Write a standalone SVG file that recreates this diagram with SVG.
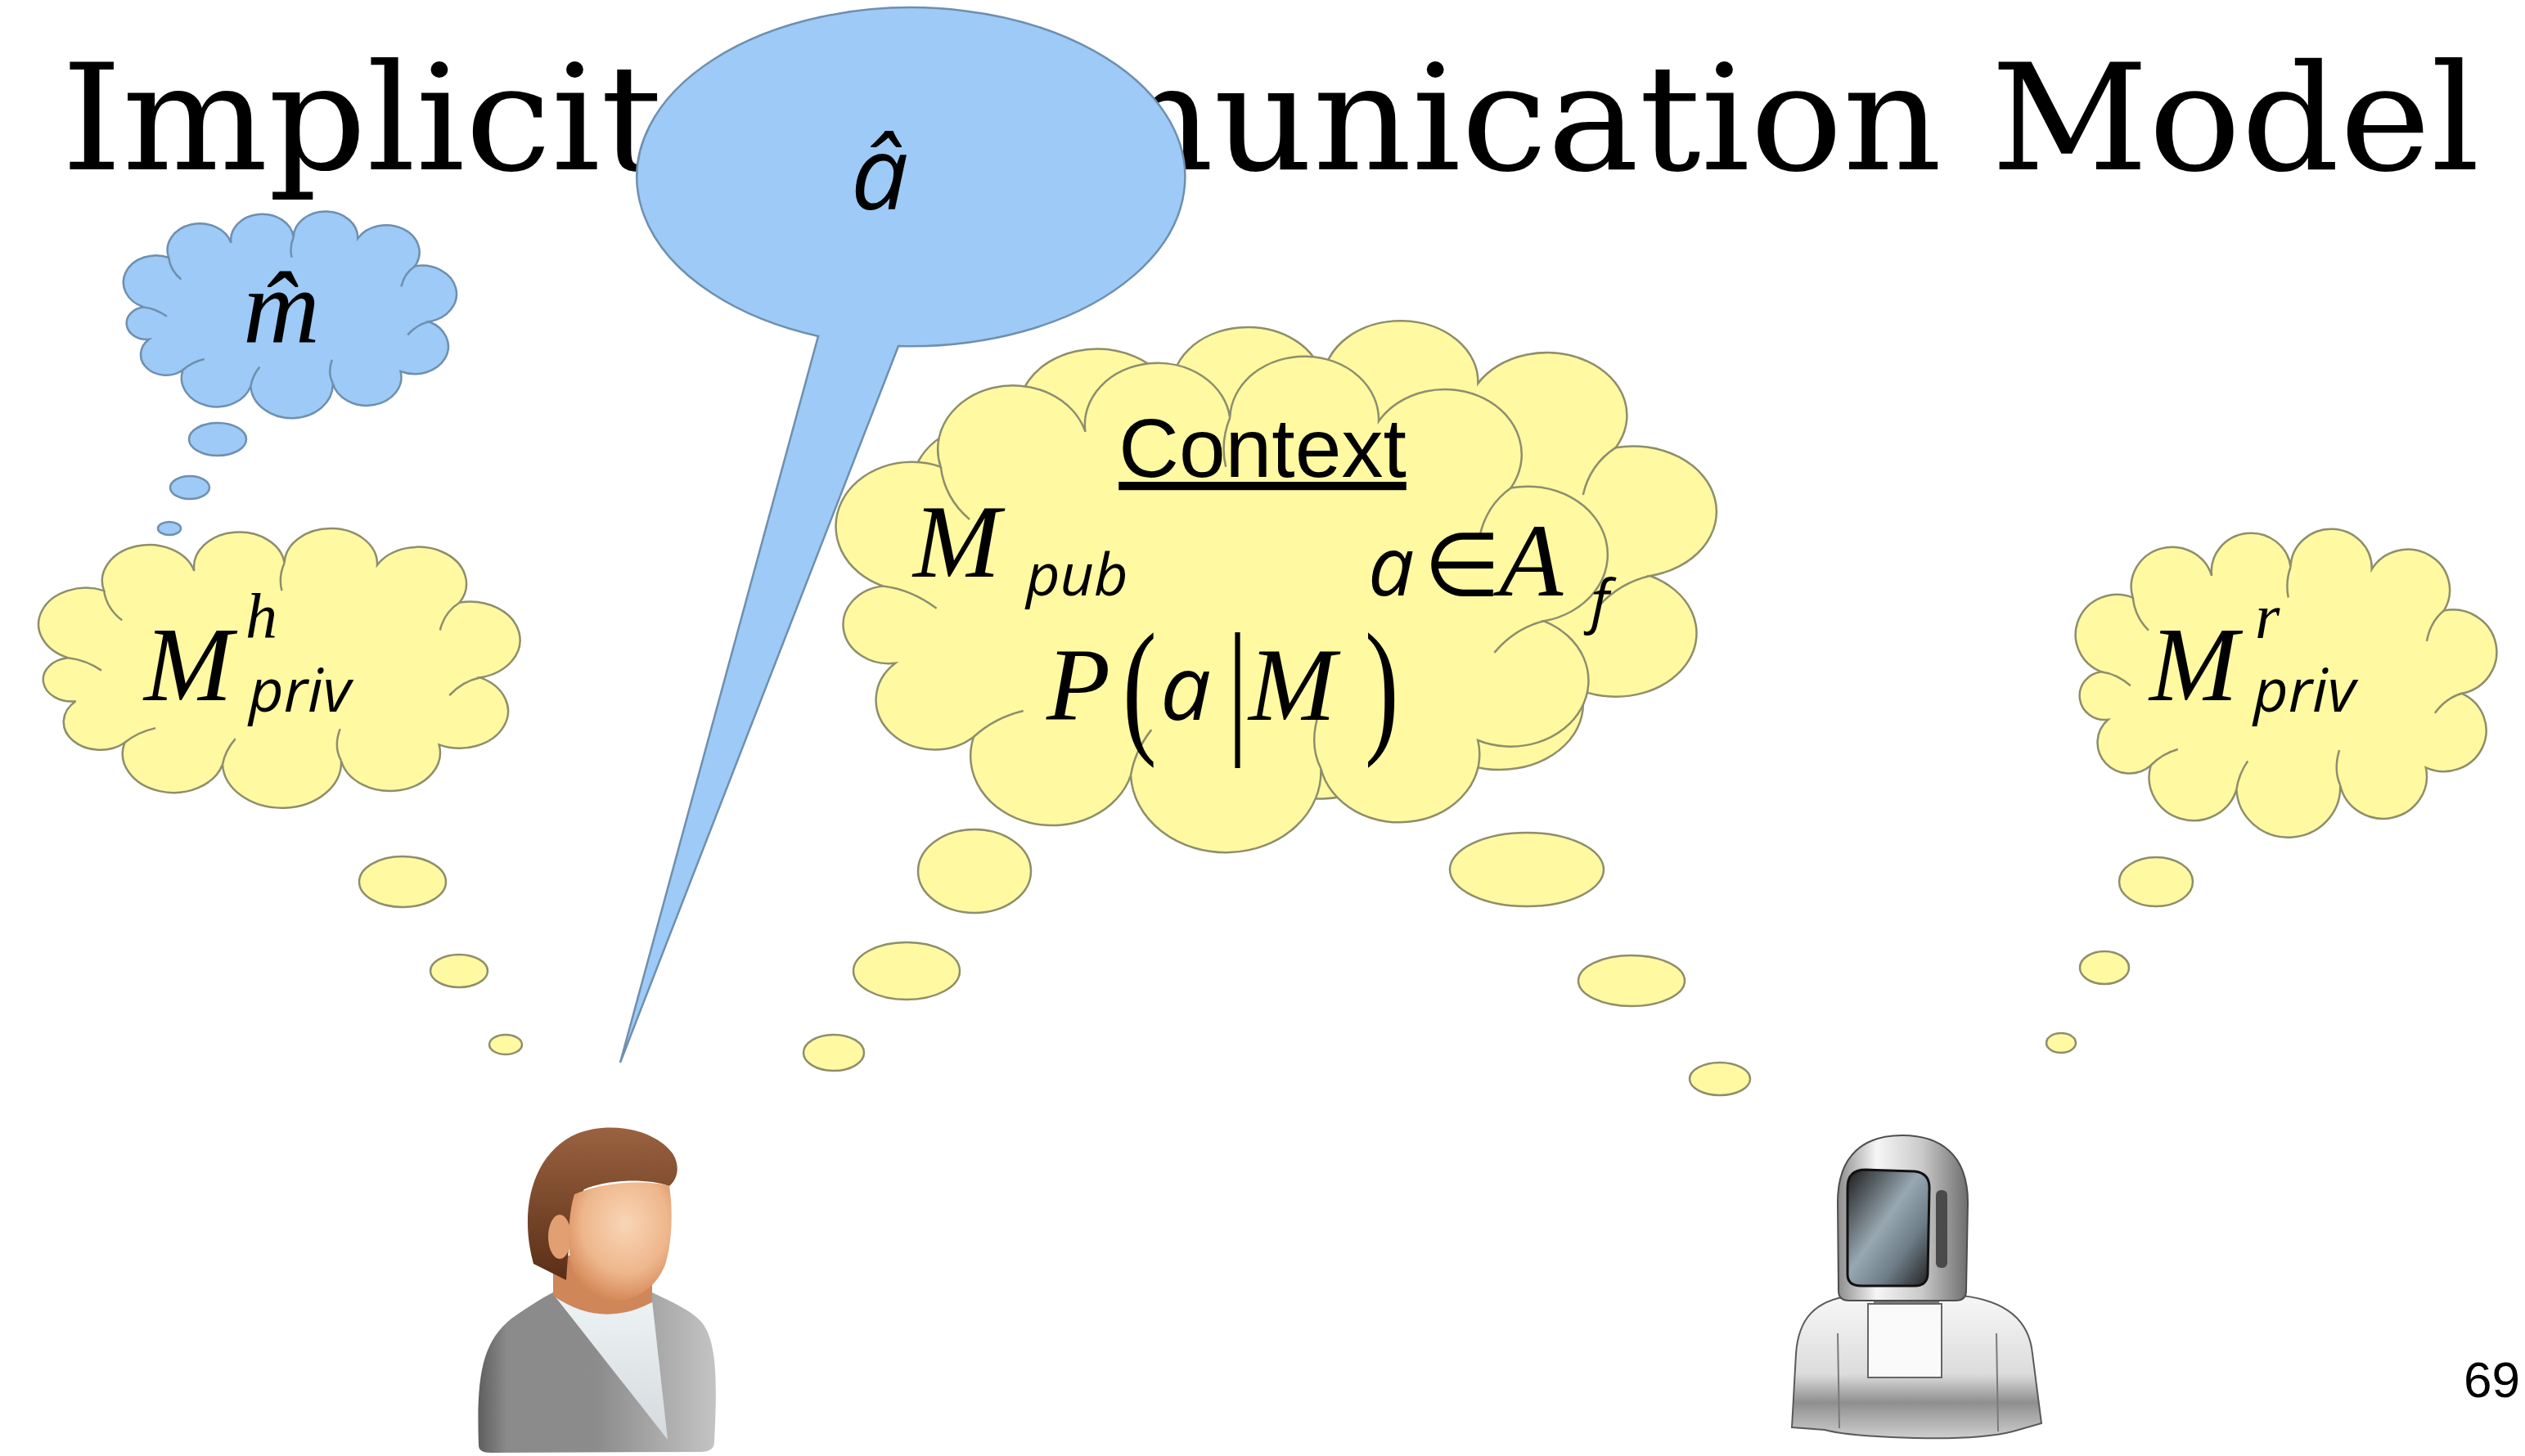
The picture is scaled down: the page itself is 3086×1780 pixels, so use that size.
<svg xmlns="http://www.w3.org/2000/svg" xmlns:xlink="http://www.w3.org/1999/xlink" width="3086" height="1780" viewBox="0 0 3086 1780">
  <style>
    .blue { fill: #9dcaf6; stroke: #6f8fae; stroke-width: 2.5; }
    .yel { fill: #fff9a2; stroke: #8e8e6c; stroke-width: 2.5; }
    .title { font-family: "DejaVu Serif", serif; font-size: 180px; fill: #000; }
    .var { font-family: "Liberation Serif", serif; font-style: italic; fill: #000; }
    .svar { font-family: "Open Sans", sans-serif; font-style: italic; fill: #000; }
    .op { font-family: "Liberation Serif", serif; fill: #000; }
    .label { font-family: "Liberation Sans", sans-serif; fill: #000; }
  </style>
  <defs>
    <!-- generic cloud outline of round lobes, stretched per use -->
    <symbol id="cloud" viewBox="0 0 1000 700" preserveAspectRatio="none" overflow="visible">
      <path vector-effect="non-scaling-stroke" d="M100,340 A50,50 0 0 1 170,170 A50,50 0 0 1 345,120 A50,50 0 0 1 520,100 A50,50 0 0 1 700,105 A50,50 0 0 1 860,200 A50,50 0 0 1 900,390 A50,50 0 0 1 820,560 A50,50 0 0 1 630,600 A50,50 0 0 1 400,610 A50,50 0 0 1 210,555 A50,50 0 0 1 115,450 A50,50 0 0 1 100,340 Z"/>
      <path vector-effect="non-scaling-stroke" fill="none" d="M170,170 Q175,215 205,245 M520,100 Q508,135 515,170 M860,200 Q830,225 822,270 M900,390 Q865,400 840,435 M630,600 Q615,565 628,520 M400,610 Q405,575 425,545 M210,555 Q235,528 270,518 M100,340 Q135,345 165,372"/>
    </symbol>
    <linearGradient id="hairG" x1="0" y1="0" x2="0" y2="1">
      <stop offset="0" stop-color="#9a6240"/>
      <stop offset="1" stop-color="#5a2f17"/>
    </linearGradient>
    <radialGradient id="skinG" cx="0.55" cy="0.35" r="0.7">
      <stop offset="0" stop-color="#f9d6b6"/>
      <stop offset="0.6" stop-color="#eeb68c"/>
      <stop offset="1" stop-color="#d0804e"/>
    </radialGradient>
    <linearGradient id="jacketG" x1="0" y1="0" x2="1" y2="0">
      <stop offset="0" stop-color="#5f5f5f"/>
      <stop offset="0.12" stop-color="#8a8a8a"/>
      <stop offset="0.5" stop-color="#8c8c8c"/>
      <stop offset="1" stop-color="#c4c4c4"/>
    </linearGradient>
    <linearGradient id="shirtG" x1="0" y1="0" x2="0" y2="1">
      <stop offset="0" stop-color="#eef3f5"/>
      <stop offset="1" stop-color="#d4dadd"/>
    </linearGradient>
    <linearGradient id="metalG" x1="0" y1="0" x2="1" y2="0">
      <stop offset="0" stop-color="#8c8c8c"/>
      <stop offset="0.3" stop-color="#f6f6f6"/>
      <stop offset="0.65" stop-color="#c9c9c9"/>
      <stop offset="1" stop-color="#6e6e6e"/>
    </linearGradient>
    <linearGradient id="metalV" x1="0" y1="0" x2="0" y2="1">
      <stop offset="0" stop-color="#f7f7f7"/>
      <stop offset="0.55" stop-color="#dcdcdc"/>
      <stop offset="0.75" stop-color="#8f8f8f"/>
      <stop offset="1" stop-color="#cfcfcf"/>
    </linearGradient>
    <linearGradient id="visorG" x1="0" y1="0" x2="1" y2="1">
      <stop offset="0" stop-color="#1c1c1c"/>
      <stop offset="0.45" stop-color="#98a8b2"/>
      <stop offset="0.7" stop-color="#6d7c86"/>
      <stop offset="1" stop-color="#202020"/>
    </linearGradient>
  </defs>

  <rect width="3086" height="1780" fill="#fff"/>

  <text class="title" x="75" y="207" textLength="2956" lengthAdjust="spacingAndGlyphs">Implicit Communication Model</text>

  <!-- thought bubbles (connectors between thinkers and thoughts) -->
  <g id="connectors">
    <ellipse class="blue" cx="266" cy="537" rx="35" ry="20"/>
    <ellipse class="blue" cx="232" cy="596" rx="24" ry="14"/>
    <ellipse class="blue" cx="207" cy="646" rx="14" ry="8"/>

    <ellipse class="yel" cx="492" cy="1078" rx="53" ry="31"/>
    <ellipse class="yel" cx="561" cy="1187" rx="35" ry="20"/>
    <ellipse class="yel" cx="618" cy="1277" rx="20" ry="12"/>

    <ellipse class="yel" cx="1191" cy="1065" rx="69" ry="51"/>
    <ellipse class="yel" cx="1108" cy="1187" rx="65" ry="35"/>
    <ellipse class="yel" cx="1019" cy="1287" rx="37" ry="22"/>

    <ellipse class="yel" cx="1866" cy="1063" rx="94" ry="45"/>
    <ellipse class="yel" cx="1994" cy="1199" rx="65" ry="31"/>
    <ellipse class="yel" cx="2102" cy="1319" rx="37" ry="20"/>

    <ellipse class="yel" cx="2635" cy="1078" rx="45" ry="30"/>
    <ellipse class="yel" cx="2572" cy="1183" rx="30" ry="20"/>
    <ellipse class="yel" cx="2519" cy="1275" rx="18" ry="12"/>
  </g>

  <!-- human's guess of the message -->
  <g id="m-hat">
    <use href="#cloud" class="blue" x="132" y="254" width="436" height="250"/>
    <text class="var" x="344" y="419" font-size="130" text-anchor="middle">m̂</text>
  </g>

  <!-- human private model -->
  <g id="human-private">
    <use href="#cloud" class="yel" x="20" y="640" width="630" height="338"/>
    <text class="var" x="176" y="856" font-size="130">M</text>
    <text class="var" x="300" y="780" font-size="78">h</text>
    <text class="svar" x="304" y="870" font-size="74">priv</text>
  </g>

  <!-- shared context -->
  <g id="context">
    <use href="#cloud" class="yel" x="1070" y="382" width="1052" height="578"/>
    <use href="#cloud" class="yel" x="978" y="425" width="1010" height="600"/>
    <text class="label" x="1543" y="583" font-size="102" text-anchor="middle" text-decoration="underline">Context</text>
    <text class="var" x="1116" y="705" font-size="128">M</text>
    <text class="svar" x="1254" y="728" font-size="72">pub</text>
    <text class="svar" x="1672" y="728" font-size="100">a</text>
    <text class="op" x="1740" y="728" font-size="108">∈</text>
    <text class="var" x="1832" y="728" font-size="128">A</text>
    <text class="svar" x="1944" y="760" font-size="72">f</text>
    <text class="var" x="1279" y="880" font-size="128">P</text>
    <text class="op" transform="translate(1372,900) scale(1,1.45)" font-size="125">(</text>
    <text class="svar" x="1418" y="880" font-size="110">a</text>
    <text class="op" transform="translate(1500,900) scale(1,1.45)" font-size="125">|</text>
    <text class="var" x="1526" y="880" font-size="128">M</text>
    <text class="op" transform="translate(1668,900) scale(1,1.45)" font-size="125">)</text>
  </g>

  <!-- robot private model -->
  <g id="robot-private">
    <use href="#cloud" class="yel" x="2513" y="640" width="551" height="373"/>
    <text class="var" x="2627" y="856" font-size="130">M</text>
    <text class="var" x="2756" y="780" font-size="78">r</text>
    <text class="svar" x="2754" y="870" font-size="74">priv</text>
  </g>

  <!-- spoken action balloon -->
  <g id="a-hat">
    <path class="blue" d="M1000,411 A335,207 0 1 1 1098,423 L758,1299 Z"/>
    <text class="svar" x="1075" y="256" font-size="125" text-anchor="middle">â</text>
  </g>

  <!-- human figure -->
  <g id="human">
    <path fill="url(#jacketG)" d="M585,1767 C582,1680 590,1640 625,1612 C648,1596 664,1586 676,1580 L797,1580 C822,1592 845,1602 858,1617 C878,1642 876,1700 873,1763 Q873,1774 858,1775 L600,1776 Q585,1776 585,1767 Z"/>
    <path fill="url(#shirtG)" d="M676,1582 L797,1590 L816,1760 Z"/>
    <path fill="#cf8658" d="M676,1535 L676,1584 Q735,1625 797,1592 L797,1535 Z"/>
    <path fill="url(#hairG)" d="M652,1545 C634,1480 650,1410 705,1386 C745,1370 800,1380 822,1410 C832,1426 828,1442 818,1450 C790,1440 742,1442 714,1454 C700,1472 696,1505 692,1565 Z"/>
    <ellipse cx="684" cy="1512" rx="14" ry="27" fill="#e2a072"/>
    <path fill="url(#skinG)" d="M702,1460 C740,1444 792,1442 818,1450 C823,1482 821,1520 813,1546 C801,1576 776,1590 752,1590 C725,1588 706,1572 698,1546 C693,1520 695,1482 702,1460 Z"/>
  </g>

  <!-- robot figure -->
  <g id="robot">
    <path fill="url(#metalV)" stroke="#5a5a5a" stroke-width="2" d="M2190,1745 L2195,1655 C2198,1612 2218,1590 2262,1584 L2398,1584 C2450,1590 2480,1612 2484,1655 L2495,1740 L2460,1750 Q2420,1760 2340,1758 Q2260,1756 2230,1748 Z"/>
    <path fill="none" stroke="#7a7a7a" stroke-width="2" d="M2246,1630 L2248,1746 M2440,1630 L2442,1750"/>
    <rect x="2290" y="1572" width="80" height="34" fill="#7b7b7b"/>
    <rect x="2283" y="1594" width="90" height="90" fill="#fafafa" stroke="#666" stroke-width="2"/>
    <path fill="url(#metalG)" stroke="#4d4d4d" stroke-width="2" d="M2246,1470 C2246,1410 2280,1388 2325,1388 C2370,1388 2405,1410 2405,1470 L2403,1578 Q2403,1590 2390,1590 L2260,1590 Q2247,1590 2247,1578 Z"/>
    <path fill="url(#visorG)" stroke="#111" stroke-width="3" d="M2258,1452 Q2258,1430 2280,1430 L2340,1432 Q2358,1434 2358,1452 L2356,1558 Q2355,1572 2340,1572 L2275,1572 Q2258,1572 2258,1558 Z"/>
    <rect x="2366" y="1455" width="14" height="95" rx="6" fill="#4a4a4a"/>
  </g>

  <text class="label" x="3011" y="1708" font-size="62">69</text>
</svg>
